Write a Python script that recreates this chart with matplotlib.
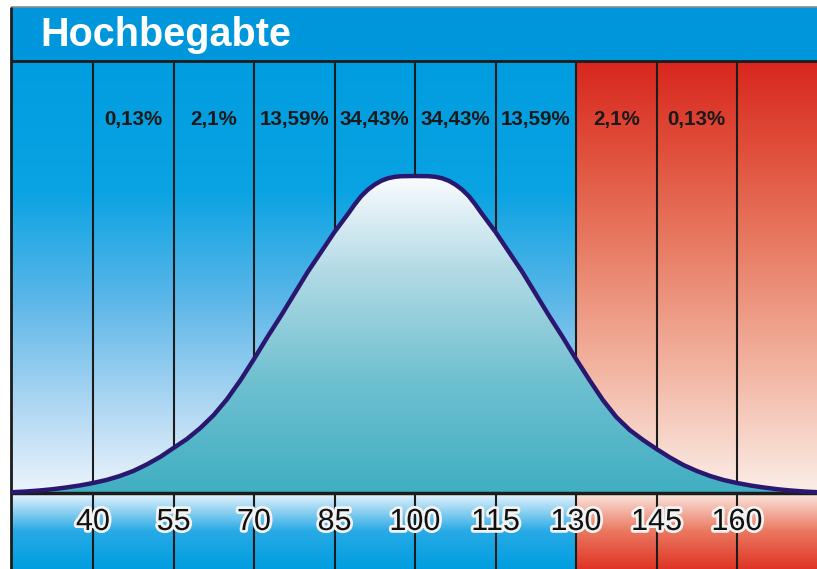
import numpy as np
import matplotlib.pyplot as plt
import matplotlib.patheffects as pe
from matplotlib.colors import LinearSegmentedColormap
from matplotlib.patches import Polygon, Rectangle

plt.rcParams['font.family'] = ['Liberation Sans', 'DejaVu Sans']

title = "Hochbegabte"
iq_ticks = [40, 55, 70, 85, 100, 115, 130, 145, 160]
pct_labels = ["0,13%", "2,1%", "13,59%", "34,43%", "34,43%", "13,59%", "2,1%", "0,13%"]

# bell curve (IQ, height)
curve_iq = [25, 27.5, 30, 32.5, 35, 37.5, 40, 42.5, 45, 47.5, 50, 52.5, 55, 57.5,
            60, 62.5, 65, 67.5, 70, 72.5, 75, 77.5, 80, 82.5, 85, 87.5, 88.75, 90,
            91.25, 92.5, 93.75, 95, 96.25, 97.5, 100, 102.5, 103.75, 105, 106.25,
            107.5, 108.75, 110, 111.25, 112.5, 115, 117.5, 120, 122.5,
            125, 127.5, 130, 132.5, 135, 137.5, 140, 142.5, 145, 147.5, 150, 152.5,
            155, 157.5, 160, 162.5, 165, 167.5, 170, 172.5, 175]
curve_h = [0.8, 1.5, 2.5, 3.8, 5.5, 7.5, 10, 13, 17, 22, 28.5, 36, 45, 54,
           65, 78, 94, 113, 134, 156, 177, 199, 221, 241, 261, 279, 288.5, 297,
           303.5, 308.5, 312.3, 314.8, 316.2, 316.8, 317, 316.8, 316.2, 314.8, 312.3,
           308.5, 303.5, 297, 288.5, 279, 261, 241, 221, 199,
           177, 156, 134, 113, 93, 76, 63, 53, 44, 35.5, 28, 22,
           17, 13, 10, 7.5, 5.5, 3.8, 2.5, 1.5, 0.8]

# frame geometry (IQ units horizontally, height units vertically)
x_left, x_right = 24.72, 174.9
x_split = 130
panel_top = 432
bar_top = 486
strip_bottom = -76


def cmap_from(stops):
    return LinearSegmentedColormap.from_list(
        "g", [(p, tuple(c / 255 for c in col)) for p, col in stops])


blue_panel = cmap_from([(0, (236, 244, 251)), (0.2, (175, 215, 243)), (0.45, (90, 182, 232)),
                        (0.7, (10, 163, 227)), (1, (0, 157, 224))])
red_panel = cmap_from([(0, (251, 238, 232)), (0.3, (242, 178, 158)), (0.6, (231, 118, 94)),
                       (0.8, (224, 78, 58)), (1, (216, 38, 30))])
bell_fill = cmap_from([(0, (64, 174, 194)), (0.35, (110, 192, 208)), (0.7, (178, 218, 229)),
                       (1, (250, 252, 255))])
blue_strip = cmap_from([(0, (0, 158, 224)), (0.5, (40, 170, 230)), (1, (235, 245, 252))])
red_strip = cmap_from([(0, (224, 52, 38)), (0.5, (234, 120, 96)), (1, (251, 232, 224))])


def vgrad(ax, x0, x1, y0, y1, cmap, z=1):
    img = np.linspace(0, 1, 256).reshape(-1, 1)
    return ax.imshow(img, extent=[x0, x1, y0, y1], origin='lower', cmap=cmap,
                     aspect='auto', zorder=z, interpolation='bilinear')


fig = plt.figure(figsize=(8.17, 5.69), dpi=100)
ax = fig.add_axes([0, 0, 1, 1])

# background panels
vgrad(ax, x_left, x_split, 0, panel_top, blue_panel)
vgrad(ax, x_split, x_right, 0, panel_top, red_panel)
vgrad(ax, x_left, x_split, strip_bottom, 0, blue_strip)
vgrad(ax, x_split, x_right, strip_bottom, 0, red_strip)

# title bar
ax.add_patch(Rectangle((x_left, panel_top), x_right - x_left, bar_top - panel_top,
                       facecolor='#0096dc', edgecolor='none', zorder=1))
ax.text(30.1, 447, title, color='white', fontsize=28.5, fontweight='bold',
        va='baseline', ha='left', zorder=6)

# grid lines
ax.vlines(iq_ticks, strip_bottom, panel_top, color='#1c1c1c', lw=1.5, zorder=2)

# bell with gradient fill
pts = np.column_stack([curve_iq, curve_h])
poly = Polygon(pts, closed=True, facecolor='none', edgecolor='none', zorder=3)
ax.add_patch(poly)
im = vgrad(ax, x_left, x_right, 0, max(curve_h), bell_fill, z=3)
im.set_clip_path(poly)
ax.plot(curve_iq, curve_h, color='#2a1870', lw=3.2, solid_joinstyle='round',
        solid_capstyle='round', zorder=5)

# frame lines
ax.hlines(0, x_left, x_right, color='#1c1c1c', lw=2.5, zorder=4)
ax.hlines(panel_top, x_left, x_right, color='#1c1c1c', lw=2, zorder=4)
ax.hlines(bar_top, x_left, x_right, color='#8a8a8a', lw=1.2, zorder=4)
ax.vlines(x_left, strip_bottom, bar_top, color='#1c1c1c', lw=2, zorder=4)

# percentage labels
for i, lab in enumerate(pct_labels):
    xm = (iq_ticks[i] + iq_ticks[i + 1]) / 2
    ax.text(xm, 374, lab, fontsize=14.8, fontweight='bold', color='#1a1a1a',
            ha='center', va='center', zorder=6)

# IQ numbers
for t in iq_ticks:
    ax.text(t, -29, str(t), fontsize=22, color='#111111', ha='center', va='center',
            zorder=6, path_effects=[pe.withStroke(linewidth=4, foreground='#f2f2f2')])

ax.set_xlim(22.67, 174.9)
ax.set_ylim(strip_bottom, 493)
ax.axis('off')

fig.savefig('out.png', dpi=100)
